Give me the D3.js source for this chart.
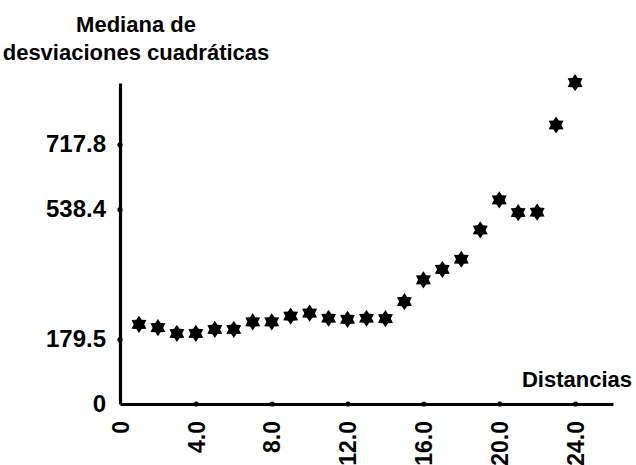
<!DOCTYPE html>
<html>
<head>
<meta charset="utf-8">
<script src="https://cdn.jsdelivr.net/npm/d3@7"></script>
<style>
  html, body { margin: 0; padding: 0; background: #fff; }
  svg { display: block; }
  text { font-family: "Liberation Sans", Arial, sans-serif; font-weight: bold; fill: #000; }
</style>
</head>
<body>
<svg id="chart" width="636" height="465"></svg>
<script>
const distances = [1,2,3,4,5,6,7,8,9,10,11,12,13,14,15,16,17,18,19,20,21,22,23,24];
const medians = [220,211,195,195,206,206,227,227,243,251,237,234,237,236,283,343,372,400,481,564,529,530,771,888];
const yTickValues = [0, 179.5, 538.4, 717.8];
const yTickLabels = ["0", "179.5", "538.4", "717.8"];
const xTickValues = [0, 4, 8, 12, 16, 20, 24];
const xTickLabels = ["0", "4.0", "8.0", "12.0", "16.0", "20.0", "24.0"];
const yTitle = ["Mediana de", "desviaciones cuadráticas"];
const xTitle = "Distancias";

const svg = d3.select("#chart");
const x = d3.scaleLinear().domain([0, 26]).range([120, 613]);
const y = d3.scaleLinear().domain([0, 887]).range([404, 83]);

// Y axis
const yAxis = d3.axisLeft(y).tickValues(yTickValues)
  .tickFormat((d, i) => yTickLabels[i]).tickSize(0).tickPadding(14);
const gy = svg.append("g").attr("transform", `translate(${x(0)},0)`).call(yAxis);
gy.select(".domain").attr("stroke", "#000").attr("stroke-width", 3.2);
gy.selectAll(".tick text").attr("font-size", 24).attr("font-family", null);
gy.selectAll(".tick").append("circle").attr("r", 2.6).attr("fill", "#000");
gy.selectAll(".tick").filter(d => d === 0).select("circle").remove();

// X axis
const xAxis = d3.axisBottom(x).tickValues(xTickValues)
  .tickFormat((d, i) => xTickLabels[i]).tickSize(0);
const gx = svg.append("g").attr("transform", `translate(0,${y(0)})`).call(xAxis);
gx.select(".domain").attr("stroke", "#000").attr("stroke-width", 3.2);
gx.selectAll(".tick text")
  .attr("font-size", 23).attr("font-family", null)
  .attr("transform", "rotate(-90)")
  .attr("text-anchor", "end")
  .attr("x", -17).attr("y", 0).attr("dy", "0.36em");
gx.selectAll(".tick").filter(d => d !== 0).append("circle").attr("r", 2.6).attr("fill", "#000");

// six-pointed star symbol
const R = 8.6, r = 5.3;
const starPts = d3.range(12).map(i => [i * Math.PI / 6, i % 2 === 0 ? R : r]);
const starPath = d3.lineRadial().curve(d3.curveLinearClosed)(starPts);

svg.append("g").selectAll("path")
  .data(distances.map((d, i) => ({ d, v: medians[i] })))
  .join("path")
  .attr("d", starPath)
  .attr("transform", p => `translate(${x(p.d)},${y(p.v)})`)
  .attr("fill", "#000");

// titles
svg.append("text").attr("x", 136).attr("y", 32).attr("text-anchor", "middle")
  .attr("font-size", 22).text(yTitle[0]);
svg.append("text").attr("x", 136).attr("y", 60).attr("text-anchor", "middle")
  .attr("font-size", 22).text(yTitle[1]);
svg.append("text").attr("x", 632).attr("y", 387).attr("text-anchor", "end")
  .attr("font-size", 22).text(xTitle);
</script>
</body>
</html>
